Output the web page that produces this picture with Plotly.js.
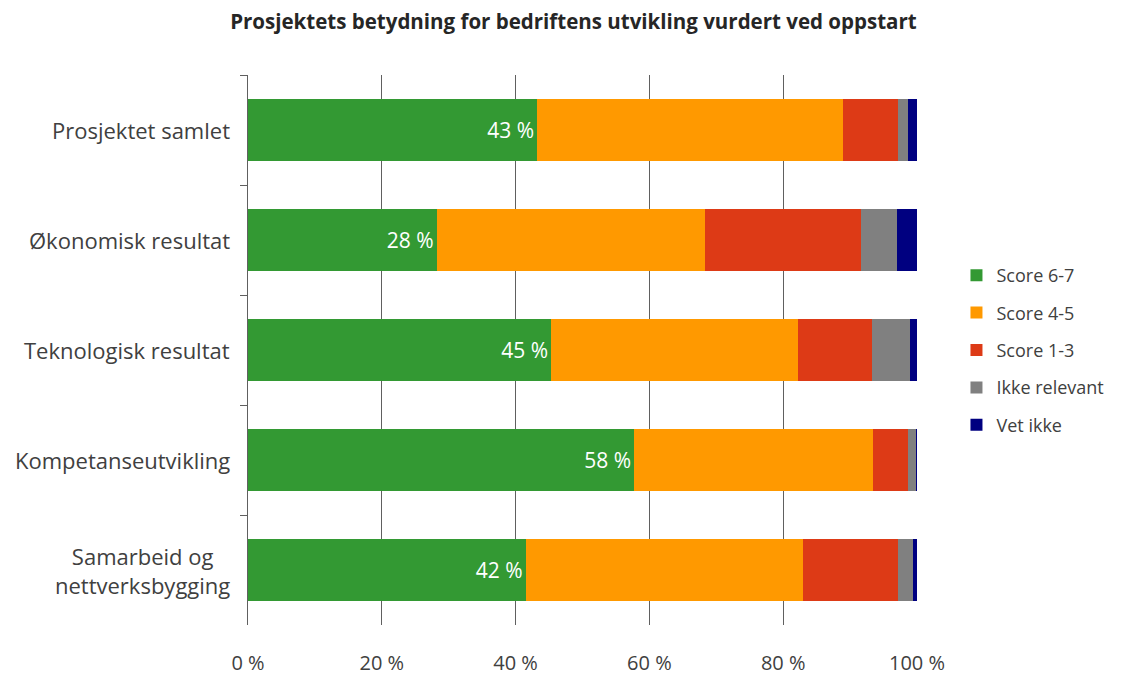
<!DOCTYPE html>
<html>
<head>
<meta charset="utf-8">
<script src="https://cdn.plot.ly/plotly-3.0.1.min.js"></script>
<style>html,body{margin:0;padding:0;background:#fff;}#chart{width:1131px;height:675px;}</style>
</head>
<body>
<div id="chart"></div>
<script>
const categories = ["Prosjektet samlet", "Økonomisk resultat", "Teknologisk resultat", "Kompetanseutvikling", "Samarbeid og<br>nettverksbygging"];
const score67 = [43.2, 28.2, 45.3, 57.7, 41.5];
const score45 = [45.8, 40.1, 36.9, 35.7, 41.5];
const score13 = [8.2, 23.3, 11.1, 5.3, 14.2];
const ikkeRelevant = [1.5, 5.4, 5.7, 1.2, 2.2];
const vetIkke = [1.3, 3.0, 1.0, 0.15, 0.6];
const seriesNames = ["Score 6-7", "Score 4-5", "Score 1-3", "Ikke relevant", "Vet ikke"];
const colors = ["#339933", "#FF9900", "#DD3A16", "#808080", "#000080"];
const xTickVals = [0, 20, 40, 60, 80, 100];
const xTickText = ["0 %", "20 %", "40 %", "60 %", "80 %", "100 %"];

const FONT = "'Open Sans', sans-serif";
const series = [score67, score45, score13, ikkeRelevant, vetIkke];
const traces = series.map((vals, i) => {
  const t = {
    type: 'bar', orientation: 'h', name: seriesNames[i],
    y: categories, x: vals,
    marker: {color: colors[i], line: {width: 0}},
    legendgroup: 'g' + i,
    hoverinfo: 'x+name'
  };
  if (i === 0) {
    t.text = vals.map(v => Math.round(v) + ' %');
    t.textposition = 'inside';
    t.insidetextanchor = 'end';
    t.textfont = {color: '#ffffff', size: 21, family: FONT};
  } else {
    t.textposition = 'none';
  }
  return t;
});

const annotations = categories.map(c => ({
  xref: 'paper', yref: 'y', x: 0, y: c, xanchor: 'right', yanchor: 'middle',
  xshift: -16, text: c, showarrow: false, align: 'center',
  font: {size: 22, color: '#404040', family: FONT}
}));

const layout = {
  width: 1131, height: 675,
  margin: {l: 248, r: 214, t: 75, b: 50, autoexpand: false},
  paper_bgcolor: '#ffffff', plot_bgcolor: '#ffffff',
  barmode: 'stack', bargap: 0.44,
  font: {family: FONT, color: '#404040'},
  title: {text: '<b>Prosjektets betydning for bedriftens utvikling vurdert ved oppstart</b>',
          x: 0.507, xanchor: 'center', y: 0.967, yanchor: 'middle',
          font: {size: 20.5, color: '#262626', family: FONT}},
  xaxis: {range: [0, 100], tickvals: xTickVals, ticktext: xTickText,
          showgrid: true, gridcolor: '#606060', gridwidth: 1,
          zeroline: false, showline: false, ticks: '',
          ticklabelstandoff: 24,
          tickfont: {size: 20, color: '#404040', family: FONT}, fixedrange: true},
  yaxis: {autorange: 'reversed', showticklabels: false, showline: true,
          linecolor: '#606060', linewidth: 1, ticks: 'outside', ticklen: 7,
          tickcolor: '#606060', tickson: 'boundaries', showgrid: false, zeroline: false,
          fixedrange: true},
  legend: {x: 1.059, xanchor: 'left', y: 0.5, yanchor: 'middle',
           traceorder: 'grouped', tracegroupgap: 11,
           font: {size: 18, color: '#404040', family: FONT}},
  annotations: annotations,
  showlegend: true
};

Plotly.newPlot('chart', traces, layout, {displayModeBar: false, staticPlot: true});
</script>
</body>
</html>
